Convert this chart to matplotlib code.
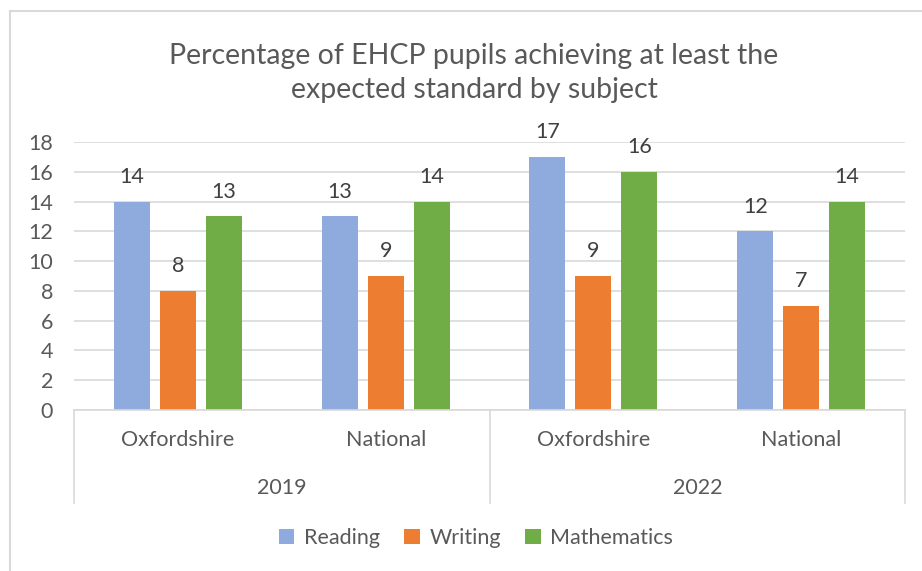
import numpy as np
import matplotlib.pyplot as plt
from matplotlib.lines import Line2D

plt.rcParams['font.family'] = ['Lato', 'DejaVu Sans']

# data
areas = ["Oxfordshire", "National", "Oxfordshire", "National"]
years = ["2019", "2022"]
subjects = ["Reading", "Writing", "Mathematics"]
reading = [14, 13, 17, 12]
writing = [8, 9, 9, 7]
maths = [13, 14, 16, 14]
colors = ["#8FAADC", "#ED7D31", "#70AD47"]

W, H = 922, 571
fs = 15.5
fig = plt.figure(figsize=(W / 100, H / 100), dpi=100)

# chart border (only left and top visible in the crop)
fig.add_artist(Line2D([10 / W, 10 / W], [0, 1 - 11 / H], color="#D9D9D9", lw=1.5))
fig.add_artist(Line2D([10 / W, 1], [1 - 11 / H, 1 - 11 / H], color="#D9D9D9", lw=1.5))

x0, x1, ytop, ybot = 74, 905, 142, 410
ax = fig.add_axes([x0 / W, (H - ybot) / H, (x1 - x0) / W, (ybot - ytop) / H])

x = np.arange(len(areas))
bw = 0.173
off = 0.221
for i, (vals, c) in enumerate(zip([reading, writing, maths], colors)):
    pos = x + (i - 1) * off
    ax.bar(pos, vals, width=bw, color=c, label=subjects[i], zorder=2)
    for p, v in zip(pos, vals):
        ax.annotate(str(v), (p, v), xytext=(0, 13.5), textcoords="offset points",
                    ha="center", va="baseline", fontsize=fs, color="#404040")

ax.set_xlim(-0.5, 3.5)
ax.set_ylim(0, 18)
ax.set_yticks(range(0, 19, 2))
ax.grid(axis="y", color="#D9D9D9", lw=1.2, zorder=0)
for s in ax.spines.values():
    s.set_visible(False)
ax.tick_params(axis="y", length=0, pad=15, labelsize=fs, labelcolor="#595959")
ax.set_xticks([])

# multi-level category axis
tr = ax.get_xaxis_transform()
axh = ybot - ytop
low = -(503 - ybot) / axh
ax.plot([-0.5, 3.5], [0, 0], color="#D9D9D9", lw=1.2, transform=tr, clip_on=False, zorder=3)
for xv in [-0.5, 1.5, 3.5]:
    ax.plot([xv, xv], [0, low], color="#D9D9D9", lw=1.2, transform=tr, clip_on=False)
for xi, name in zip(x, areas):
    ax.text(xi, -(440 - ybot) / axh, name, transform=tr, ha="center", va="center",
            fontsize=fs, color="#595959")
for k, yr in enumerate(years):
    ax.text(2 * k + 0.5, -(488 - ybot) / axh, yr, transform=tr, ha="center", va="center",
            fontsize=fs, color="#595959")

fig.text(474 / W, 1 - 73 / H, "Percentage of EHCP pupils achieving at least the\nexpected standard by subject",
         ha="center", va="center", fontsize=20.5, color="#595959", linespacing=1.42)

fig.legend(loc="center", bbox_to_anchor=(476 / W, 1 - 538 / H), ncol=3, frameon=False,
           fontsize=fs, labelcolor="#595959", handlelength=0.7, handleheight=0.7,
           handletextpad=0.45, columnspacing=1.15)

fig.savefig("out.png", dpi=100)
